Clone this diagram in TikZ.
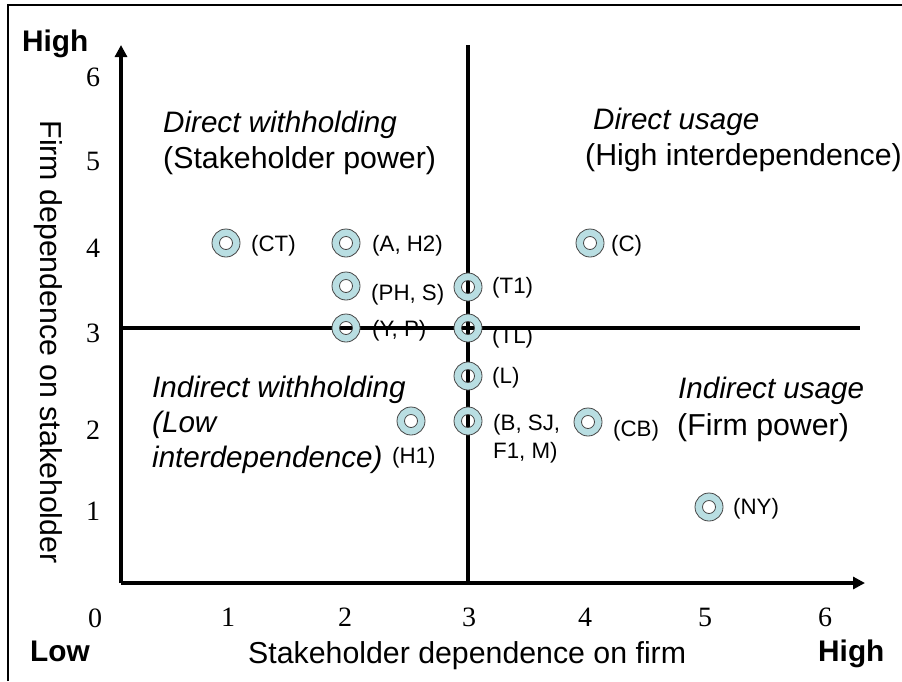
\documentclass[tikz,border=0pt]{standalone}
\usepackage{fontspec}
\setmainfont{Liberation Sans}
\newfontfamily\tickfont{Liberation Serif}
\usetikzlibrary{arrows.meta}
\definecolor{ringblue}{RGB}{185,222,226}
\definecolor{ringedge}{RGB}{70,70,70}

\begin{document}
\begin{tikzpicture}[x=1pt,y=-1pt,
  frameline/.style={line width=2.5pt},
  axisline/.style={line width=3.4pt},
  axisarrow/.style={axisline,-{Triangle[length=12pt,width=12pt]}},
  bigtext/.style={inner sep=0pt,anchor=base west,font=\fontsize{30.3}{34}\selectfont},
  bigit/.style={bigtext,font=\itshape\fontsize{29.6}{34}\selectfont},
  bigbf/.style={inner sep=0pt,anchor=base west,font=\bfseries\fontsize{29.8}{34}\selectfont},
  ticklbl/.style={inner sep=0pt,font=\tickfont\fontsize{28}{32}\selectfont},
  ptlbl/.style={inner sep=0pt,anchor=base west,font=\fontsize{22.3}{25}\selectfont},
  ringmark/.pic={
    \fill[ringblue,even odd rule] (0,0) circle[radius=14pt] (0,0) circle[radius=6.5pt];
    \draw[ringedge,line width=0.8pt] (0,0) circle[radius=14pt] (0,0) circle[radius=6.5pt];
  }]
\useasboundingbox (0,0) rectangle (902,681);

% outer frame
\coordinate (fbl) at (8,681);
\coordinate (ftl) at (8,5);
\coordinate (ftr) at (902,5);
\draw[frameline] (fbl) -- (ftl) -- (ftr);

% axes and quadrant dividers
\coordinate (O) at (121,583);
\coordinate (ytip) at (121,45);
\coordinate (xtip) at (865,583);
\coordinate (vtop) at (468,45);
\coordinate (vbot) at (468,583);
\coordinate (hleft) at (121,328);
\coordinate (hright) at (860,328);
\draw[axisarrow] (O) -- (ytip);
\draw[axisarrow] (O) -- (xtip);
\draw[axisline] (vbot) -- (vtop);
\draw[axisline] (hleft) -- (hright);

% tick labels
\node[ticklbl] (y6) at (93,77) {6};
\node[ticklbl] (y5) at (93,161) {5};
\node[ticklbl] (y4) at (93,248) {4};
\node[ticklbl] (y3) at (93,333) {3};
\node[ticklbl] (y2) at (93,430) {2};
\node[ticklbl] (y1) at (93,511) {1};
\node[ticklbl] (x0) at (95,618) {0};
\node[ticklbl] (x1) at (228,617) {1};
\node[ticklbl] (x2) at (345,617) {2};
\node[ticklbl] (x3) at (469,617) {3};
\node[ticklbl] (x4) at (585,617) {4};
\node[ticklbl] (x5) at (705,617) {5};
\node[ticklbl] (x6) at (825,617) {6};

% axis end labels and titles
\node[bigbf] (yhigh) at (22,51) {High};
\node[bigbf] (xlow) at (30,661) {Low};
\node[bigbf] (xhigh) at (818,661) {High};
\node[bigtext] (xtitle) at (248,663) {Stakeholder dependence on firm};
\node[inner sep=0pt,anchor=base,rotate=-90,font=\fontsize{30.3}{34}\selectfont]
  (ytitle) at (40,342) {Firm dependence on stakeholder};

% quadrant captions
\node[bigit] (q1a) at (163,132) {Direct withholding};
\node[bigtext] (q1b) at (163,168) {(Stakeholder power)};
\node[bigit] (q2a) at (593,129) {Direct usage};
\node[bigtext] (q2b) at (585,165) {(High interdependence)};
\node[bigit] (q3a) at (152,397) {Indirect withholding};
\node[bigit] (q3b) at (152,432) {(Low};
\node[bigit] (q3c) at (152,467) {interdependence)};
\node[bigit] (q4a) at (678,398) {Indirect usage};
\node[bigtext] (q4b) at (677,435) {(Firm power)};

% stakeholder positions
\coordinate (pCT) at (226,243);
\coordinate (pAH) at (346,243);
\coordinate (pPH) at (346,286);
\coordinate (pYP) at (346,328);
\coordinate (pT1) at (468,287);
\coordinate (pTL) at (468,328);
\coordinate (pL)  at (468,376);
\coordinate (pB)  at (468,421);
\coordinate (pH1) at (411,421);
\coordinate (pC)  at (590,243);
\coordinate (pCB) at (588,422);
\coordinate (pNY) at (709,507);
\foreach \p in {pCT,pAH,pPH,pYP,pT1,pTL,pL,pB,pH1,pC,pCB,pNY}
  \pic at (\p) {ringmark};

% stakeholder labels
\node[ptlbl] (lCT) at (251,251) {(CT)};
\node[ptlbl] (lAH) at (372,251) {(A, H2)};
\node[ptlbl] (lPH) at (371,300) {(PH, S)};
\node[ptlbl] (lYP) at (372,336) {(Y, P)};
\node[ptlbl] (lT1) at (492,293) {(T1)};
\node[ptlbl] (lTL) at (492,343) {(TL)};
\node[ptlbl] (lL)  at (492,383) {(L)};
\node[ptlbl] (lBa) at (493,430) {(B, SJ,};
\node[ptlbl] (lBb) at (493,458) {F1, M)};
\node[ptlbl] (lH1) at (392,463) {(H1)};
\node[ptlbl] (lC)  at (611,251) {(C)};
\node[ptlbl] (lCB) at (613,436) {(CB)};
\node[ptlbl] (lNY) at (733,514) {(NY)};
\end{tikzpicture}
\end{document}
